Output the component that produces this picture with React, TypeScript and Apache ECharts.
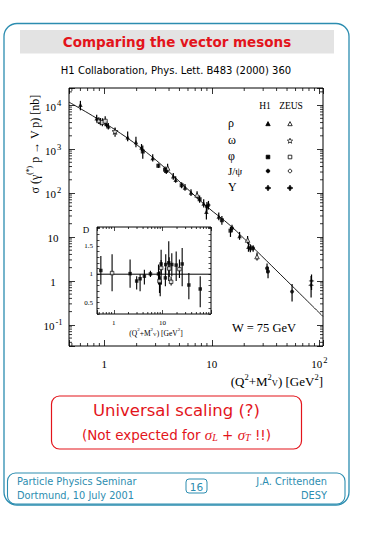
import React, { useEffect, useRef } from 'react';
import * as echarts from 'echarts';

// ---------- Main plot data: [Q2+MV2 (GeV^2), sigma (nb), error low, error high]
const rhoH1 = [
  [0.60, 10150, 7600, 12500],
  [0.85, 5050, 4200, 6000],
  [0.92, 4250, 3500, 5100],
  [1.05, 3700, 3100, 4400],
  [1.09, 3300, 2800, 3900],
  [1.65, 1845, 1500, 2500],
  [1.97, 1440, 1100, 1900],
  [2.22, 1080, 900, 1300],
  [2.82, 624, 520, 760],
  [3.77, 321, 270, 380],
  [4.38, 240, 200, 285],
  [4.61, 200, 170, 240],
  [5.63, 134, 112, 160],
  [6.4, 102, 85, 122],
  [8.4, 58, 47, 72],
  [8.9, 37.6, 25, 52],
  [11.6, 29, 24, 36],
  [18.1, 10.5, 8.6, 13],
  [21.9, 6.0, 4.6, 7.8],
];
const rhoZEUS = [
  [0.89, 4470, 3700, 5300],
  [3.88, 370, 300, 460],
  [7.29, 90, 75, 110],
  [21.5, 8.5, 7, 10.5],
  [26.3, 3.57, 2.9, 4.4],
];
const omegaZEUS = [[1.26, 2520, 1900, 3100]];
const phiH1 = [
  [2.28, 880, 600, 1200],
  [3.18, 417, 370, 470],
  [3.67, 339, 290, 400],
  [5.24, 150, 128, 176],
  [7.7, 72, 60, 88],
  [12.4, 24, 19, 30],
  [14.9, 13.9, 10, 17],
  [22.8, 5.5, 4.5, 6.7],
];
const phiZEUS = [
  [0.96, 4040, 3300, 5000],
  [1.02, 4300, 3400, 5600],
];
const jpsiH1 = [
  [9.0, 49, 38, 62],
  [9.3, 53, 42, 66],
  [15.4, 15.8, 13, 19],
  [24.2, 5.5, 4.6, 6.5],
  [32.6, 1.94, 1.5, 2.5],
  [33.3, 1.63, 1.15, 2.1],
  [55.7, 0.57, 0.34, 0.85],
];
const upsH1 = [[84.5, 1.0, 0.62, 1.4]];
const upsZEUS = [[83.7, 0.8, 0.42, 1.3]];

// Fit curve
const fitQ2 = [0.47, 1.26, 2.75, 5.6, 9.0, 15.0, 22.8, 55.7, 108];
const fitSigma = [11700, 2750, 680, 141, 49, 17.8, 6.6, 0.77, 0.155];

// ---------- Inset data: [Q2+MV2, D, error low, error high]
const insetFilled = [
  [0.54, 1.065, 0.82, 1.32],
  [2.16, 1.01, 0.76, 1.26],
  [2.95, 0.88, 0.73, 0.965],
  [3.47, 0.92, 0.70, 1.0],
  [4.25, 0.965, 0.82, 1.08],
  [5.66, 1.005, 0.95, 1.06],
  [8.3, 1.005, 0.82, 1.17],
  [9.0, 0.85, 0.61, 0.965],
  [9.4, 1.18, 0.82, 1.43],
  [11.5, 0.935, 0.79, 1.11],
  [11.7, 1.17, 1.0, 1.35],
  [13.5, 1.2, 0.88, 1.58],
  [15.6, 1.17, 0.965, 1.37],
  [19.2, 1.16, 0.88, 1.40],
  [25.5, 1.18, 0.79, 1.46],
  [35, 0.81, 0.56, 1.02],
  [60, 0.74, 0.42, 0.965],
];
const insetOpen = [
  [0.92, 1.02, 0.70, 1.35],
  [8.7, 0.88, 0.67, 1.05],
  [9.4, 1.11, 1.0, 1.25],
  [13.8, 1.1, 0.95, 1.3],
  [15.1, 0.865, 0.80, 0.96],
  [22.4, 1.09, 0.935, 1.26],
];
const insetRefX = [0.45, 100];
const insetRefD = [1, 1];

// Axis tick labels
const mainXLabels: Record<number, string> = { 0: '{b|1}', 1: '{b|10}', 2: '{b|10}{s|2}' };
const mainYLabels: Record<number, string> = {
  [-1]: '{b|10}{s|-1}', 0: '{b|1}', 1: '{b|10}', 2: '{b|10}{s|2}', 3: '{b|10}{s|3}', 4: '{b|10}{s|4}',
};
const insetXLabels: Record<number, string> = { 0: '1', 1: '10' };
const insetYLabels = [0.5, 1, 1.5];

const SERIF = '"Liberation Serif", "DejaVu Serif", serif';
const SANS = '"DejaVu Sans", Verdana, sans-serif';
const TEAL = '#2c8db0';
const RED = '#e3141b';

const X_RANGE = [0.47, 108];
const Y_RANGE = [0.033, 24500];
const IX_RANGE = [0.45, 100];
const IY_RANGE = [0.3, 1.83];

function logMinors(min: number, max: number) {
  const out: number[] = [];
  for (let e = -3; e <= 5; e++) {
    for (let k = 2; k <= 9; k++) {
      const v = k * Math.pow(10, e);
      if (v > min && v < max) out.push(v);
    }
  }
  return out;
}

const powLabel = (table: Record<number, string>) => (v: number) => {
  const l = Math.log10(v);
  const k = Math.round(l);
  if (Math.abs(l - k) > 1e-6) return '';
  return table[k] ?? '';
};

const STAR4 = 'path://M0,-10 L3,-3 L10,0 L3,3 L0,10 L-3,3 L-10,0 L-3,-3 Z';
const STAR5 = 'path://M0,-10 L2.4,-3.1 L9.5,-3.1 L3.8,1.2 L5.9,8.1 L0,4 L-5.9,8.1 L-3.8,1.2 L-9.5,-3.1 L-2.4,-3.1 Z';

function errSeries(data: number[][], xi: number, yi: number, w: number) {
  return {
    type: 'custom',
    xAxisIndex: xi,
    yAxisIndex: yi,
    data,
    silent: true,
    z: 3,
    encode: { x: 0, y: 1 },
    renderItem: (_p: any, api: any) => {
      const x = api.value(0);
      const a = api.coord([x, api.value(2)]);
      const b = api.coord([x, api.value(3)]);
      return {
        type: 'line',
        shape: { x1: a[0], y1: a[1], x2: b[0], y2: b[1] },
        style: { stroke: '#000', lineWidth: w },
      };
    },
  };
}

function minorSeries(vals: number[], dir: 'x' | 'y', xi: number, yi: number, len: number, other: number) {
  return {
    type: 'custom',
    xAxisIndex: xi,
    yAxisIndex: yi,
    silent: true,
    data: vals.map((v) => (dir === 'x' ? [v, other] : [other, v])),
    encode: { x: 0, y: 1 },
    renderItem: (params: any, api: any) => {
      const cs = params.coordSys;
      const p = api.coord([api.value(0), api.value(1)]);
      const st = { stroke: '#000', lineWidth: 0.8 };
      if (dir === 'x') {
        return {
          type: 'group',
          children: [
            { type: 'line', shape: { x1: p[0], y1: cs.y + cs.height, x2: p[0], y2: cs.y + cs.height - len }, style: st },
            { type: 'line', shape: { x1: p[0], y1: cs.y, x2: p[0], y2: cs.y + len }, style: st },
          ],
        };
      }
      return {
        type: 'group',
        children: [
          { type: 'line', shape: { x1: cs.x, y1: p[1], x2: cs.x + len, y2: p[1] }, style: st },
          { type: 'line', shape: { x1: cs.x + cs.width, y1: p[1], x2: cs.x + cs.width - len, y2: p[1] }, style: st },
        ],
      };
    },
  };
}

function scatter(data: number[][], symbol: string, filled: boolean, size: number, xi = 0, yi = 0) {
  return {
    type: 'scatter',
    xAxisIndex: xi,
    yAxisIndex: yi,
    data: data.map((d) => [d[0], d[1]]),
    symbol,
    symbolSize: size,
    z: 4,
    itemStyle: { color: filled ? '#000' : '#fff', borderColor: '#000', borderWidth: filled ? 0 : 0.9 },
  };
}

const richAxis = {
  b: { fontSize: 11, fontFamily: SERIF, color: '#000', padding: [3, 0, 0, 0] },
  s: { fontSize: 8.5, fontFamily: SERIF, color: '#000', verticalAlign: 'top', padding: [0, 0, 0, 1] },
};

function axisCommon(show: boolean) {
  return {
    axisLine: { show: false },
    splitLine: { show: false },
    axisTick: { show: true, inside: true, length: 6, lineStyle: { color: '#000', width: 0.8 } },
    axisLabel: { show },
  };
}

// legend symbol helpers (legend decoration only)
const lgTri = (cx: number, cy: number, f: boolean) => ({
  type: 'polygon', shape: { points: [[cx, cy - 2.4], [cx + 2.2, cy + 1.7], [cx - 2.2, cy + 1.7]] },
  style: { fill: f ? '#000' : '#fff', stroke: '#000', lineWidth: 0.8 },
});
const lgSq = (cx: number, cy: number, f: boolean) => ({
  type: 'rect', shape: { x: cx - 1.8, y: cy - 1.8, width: 3.6, height: 3.6 },
  style: { fill: f ? '#000' : '#fff', stroke: '#000', lineWidth: 0.8 },
});
const lgCirc = (cx: number, cy: number, f: boolean) => ({
  type: 'circle', shape: { cx, cy, r: 1.8 },
  style: { fill: f ? '#000' : '#fff', stroke: '#000', lineWidth: 0.8 },
});
const lgStar5 = (cx: number, cy: number) => {
  const pts: number[][] = [];
  for (let i = 0; i < 10; i++) {
    const r = i % 2 === 0 ? 2.8 : 1.2;
    const a = -Math.PI / 2 + (i * Math.PI) / 5;
    pts.push([cx + r * Math.cos(a), cy + r * Math.sin(a)]);
  }
  return { type: 'polygon', shape: { points: pts }, style: { fill: '#fff', stroke: '#000', lineWidth: 0.7 } };
};
const lgStar4 = (cx: number, cy: number) => ({
  type: 'polygon',
  shape: { points: [[cx, cy - 3], [cx + 1, cy - 1], [cx + 3, cy], [cx + 1, cy + 1], [cx, cy + 3], [cx - 1, cy + 1], [cx - 3, cy], [cx - 1, cy - 1]] },
  style: { fill: '#000', stroke: '#000', lineWidth: 0.6 },
});

export default function App() {
  const ref = useRef<HTMLDivElement>(null);

  useEffect(() => {
    if (!ref.current) return;
    const chart = echarts.init(ref.current, undefined, { renderer: 'svg', width: 365, height: 535 });

    const graphics: any[] = [
      // outer slide frame
      { type: 'rect', shape: { x: 4, y: 23.5, width: 345, height: 481.5, r: 13 }, style: { fill: 'none', stroke: TEAL, lineWidth: 1.3 }, z: -10 },
      // title bar
      { type: 'rect', shape: { x: 20, y: 30, width: 314, height: 23.5 }, style: { fill: '#e3e3e3' }, z: -9 },
      { type: 'text', x: 177, y: 42, style: { text: 'Comparing the vector mesons', font: `bold 13.5px ${SANS}`, fill: RED, align: 'center', verticalAlign: 'middle' } },
      { type: 'text', x: 176, y: 70.5, style: { text: 'H1 Collaboration, Phys. Lett. B483 (2000) 360', font: `10px ${SANS}`, fill: '#000', align: 'center', verticalAlign: 'middle' } },
      // y axis title
      {
        type: 'text', x: 33, y: 144, rotation: Math.PI / 2,
        style: {
          text: '{b|σ (γ}{s|(*)}{b| p → V p) [nb]}',
          align: 'center', verticalAlign: 'middle',
          rich: {
            b: { fontSize: 12, fontFamily: SERIF, fill: '#000', padding: [3, 0, 0, 0] },
            s: { fontSize: 7.5, fontFamily: SERIF, fill: '#000', verticalAlign: 'top' },
          },
        },
      },
      // x axis title
      {
        type: 'text', x: 323, y: 380,
        style: {
          text: '{b|(Q}{s|2}{b|+M}{s|2}{v|V}{b|) [GeV}{s|2}{b|]}',
          align: 'right', verticalAlign: 'middle',
          rich: {
            b: { fontSize: 13, fontFamily: SERIF, fill: '#000', padding: [2, 0, 0, 0] },
            s: { fontSize: 8.5, fontFamily: SERIF, fill: '#000', verticalAlign: 'top' },
            v: { fontSize: 8.5, fontFamily: SERIF, fill: '#000', verticalAlign: 'bottom' },
          },
        },
      },
      // W label
      { type: 'text', x: 232, y: 328, style: { text: 'W = 75 GeV', font: `12.5px ${SERIF}`, fill: '#000', align: 'left', verticalAlign: 'middle' } },
      // legend
      { type: 'text', x: 265, y: 106, style: { text: 'H1', font: `9.5px ${SERIF}`, fill: '#000', align: 'center', verticalAlign: 'middle' } },
      { type: 'text', x: 291, y: 106, style: { text: 'ZEUS', font: `9.5px ${SERIF}`, fill: '#000', align: 'center', verticalAlign: 'middle' } },
      { type: 'text', x: 228, y: 123, style: { text: 'ρ', font: `12px ${SERIF}`, fill: '#000', align: 'left', verticalAlign: 'middle' } },
      { type: 'text', x: 228, y: 140, style: { text: 'ω', font: `12px ${SERIF}`, fill: '#000', align: 'left', verticalAlign: 'middle' } },
      { type: 'text', x: 228, y: 156, style: { text: 'φ', font: `12px ${SERIF}`, fill: '#000', align: 'left', verticalAlign: 'middle' } },
      { type: 'text', x: 228, y: 171, style: { text: 'J/ψ', font: `11px ${SERIF}`, fill: '#000', align: 'left', verticalAlign: 'middle' } },
      { type: 'text', x: 228, y: 187, style: { text: 'Υ', font: `12px ${SERIF}`, fill: '#000', align: 'left', verticalAlign: 'middle' } },
      lgTri(268, 124, true), lgTri(290, 124, false),
      lgStar5(290, 141),
      lgSq(268, 157, true), lgSq(290, 157, false),
      lgCirc(268, 171, true), lgCirc(290, 171, false),
      lgStar4(268, 188), lgStar4(290, 188),
      // inset labels
      { type: 'text', x: 86, y: 230, style: { text: 'D', font: `9px ${SERIF}`, fill: '#000', align: 'center', verticalAlign: 'middle' } },
      {
        type: 'text', x: 156, y: 332,
        style: {
          text: '{b|(Q}{s|2}{b|+M}{s|2}{v|V}{b|) [GeV}{s|2}{b|]}',
          align: 'center', verticalAlign: 'middle',
          rich: {
            b: { fontSize: 7.5, fontFamily: SERIF, fill: '#000', padding: [2, 0, 0, 0] },
            s: { fontSize: 5, fontFamily: SERIF, fill: '#000', verticalAlign: 'top' },
            v: { fontSize: 5, fontFamily: SERIF, fill: '#000', verticalAlign: 'bottom' },
          },
        },
      },
      // red box
      { type: 'rect', shape: { x: 51.5, y: 396, width: 250, height: 53, r: 8 }, style: { fill: 'none', stroke: RED, lineWidth: 1.2 } },
      { type: 'text', x: 176.5, y: 410, style: { text: 'Universal scaling (?)', font: `16.5px ${SANS}`, fill: RED, align: 'center', verticalAlign: 'middle' } },
      {
        type: 'text', x: 176.5, y: 435,
        style: {
          text: '{t|(Not expected for }{m|σ}{u|L}{t| + }{m|σ}{u|T}{t| !!)}',
          align: 'center', verticalAlign: 'middle',
          rich: {
            t: { fontSize: 13.5, fontFamily: SANS, fill: RED },
            m: { fontSize: 15, fontFamily: SERIF, fontStyle: 'italic', fill: RED },
            u: { fontSize: 10, fontFamily: SERIF, fontStyle: 'italic', fill: RED, verticalAlign: 'bottom' },
          },
        },
      },
      // footer
      { type: 'rect', shape: { x: 7.5, y: 473, width: 337.5, height: 31, r: 8 }, style: { fill: 'none', stroke: TEAL, lineWidth: 1.1 } },
      { type: 'text', x: 17, y: 481.5, style: { text: 'Particle Physics Seminar', font: `9.8px ${SANS}`, fill: TEAL, align: 'left', verticalAlign: 'middle' } },
      { type: 'text', x: 17, y: 495.5, style: { text: 'Dortmund, 10 July 2001', font: `9.8px ${SANS}`, fill: TEAL, align: 'left', verticalAlign: 'middle' } },
      { type: 'text', x: 327, y: 481.5, style: { text: 'J.A. Crittenden', font: `9.8px ${SANS}`, fill: TEAL, align: 'right', verticalAlign: 'middle' } },
      { type: 'text', x: 327, y: 495.5, style: { text: 'DESY', font: `9.8px ${SANS}`, fill: TEAL, align: 'right', verticalAlign: 'middle' } },
      { type: 'rect', shape: { x: 186, y: 479, width: 21, height: 14, r: 3 }, style: { fill: 'none', stroke: TEAL, lineWidth: 1 } },
      { type: 'text', x: 196.5, y: 486.5, style: { text: '16', font: `10.5px ${SANS}`, fill: TEAL, align: 'center', verticalAlign: 'middle' } },
    ];

    const xMinMain = logMinors(X_RANGE[0], X_RANGE[1]);
    const yMinMain = logMinors(Y_RANGE[0], Y_RANGE[1]);
    const xMinInset = logMinors(IX_RANGE[0], IX_RANGE[1]);

    const option: any = {
      animation: false,
      backgroundColor: '#fff',
      grid: [
        { left: 69, top: 88, width: 254, height: 258, show: true, borderColor: '#000', borderWidth: 1, backgroundColor: 'transparent' },
        { left: 97, top: 227, width: 114, height: 87, show: true, borderColor: '#000', borderWidth: 1, backgroundColor: '#fff' },
      ],
      xAxis: [
        {
          type: 'log', gridIndex: 0, min: X_RANGE[0], max: X_RANGE[1], position: 'bottom', ...axisCommon(true),
          axisLabel: { show: true, interval: 0, margin: 9, formatter: powLabel(mainXLabels), rich: richAxis },
        },
        { type: 'log', gridIndex: 0, min: X_RANGE[0], max: X_RANGE[1], position: 'top', ...axisCommon(false) },
        {
          type: 'log', gridIndex: 1, min: IX_RANGE[0], max: IX_RANGE[1], position: 'bottom', ...axisCommon(true),
          axisTick: { show: true, inside: true, length: 4, lineStyle: { color: '#000', width: 0.7 } },
          axisLabel: { show: true, interval: 0, margin: 5, fontSize: 7, fontFamily: SERIF, color: '#000', formatter: powLabel(insetXLabels) },
        },
        {
          type: 'log', gridIndex: 1, min: IX_RANGE[0], max: IX_RANGE[1], position: 'top', ...axisCommon(false),
          axisTick: { show: true, inside: true, length: 4, lineStyle: { color: '#000', width: 0.7 } },
        },
      ],
      yAxis: [
        {
          type: 'log', gridIndex: 0, min: Y_RANGE[0], max: Y_RANGE[1], position: 'left', ...axisCommon(true),
          axisLabel: { show: true, interval: 0, margin: 16, align: 'center', formatter: powLabel(mainYLabels), rich: richAxis },
        },
        { type: 'log', gridIndex: 0, min: Y_RANGE[0], max: Y_RANGE[1], position: 'right', ...axisCommon(false) },
        {
          type: 'value', gridIndex: 1, min: IY_RANGE[0], max: IY_RANGE[1], interval: 0.1, position: 'left', ...axisCommon(true),
          axisTick: { show: true, inside: true, length: 2.5, lineStyle: { color: '#000', width: 0.7 } },
          axisLabel: {
            show: true, interval: 0, margin: 4, fontSize: 7, fontFamily: SERIF, color: '#000',
            formatter: (v: number) => {
              const hit = insetYLabels.find((t) => Math.abs(t - v) < 1e-6);
              return hit === undefined ? '' : String(hit);
            },
          },
        },
        {
          type: 'value', gridIndex: 1, min: IY_RANGE[0], max: IY_RANGE[1], interval: 0.1, position: 'right', ...axisCommon(false),
          axisTick: { show: true, inside: true, length: 2.5, lineStyle: { color: '#000', width: 0.7 } },
        },
      ],
      graphic: graphics,
      series: [
        minorSeries(xMinMain, 'x', 0, 0, 3, 1),
        minorSeries(yMinMain, 'y', 0, 0, 3, 1),
        minorSeries(xMinInset, 'x', 2, 2, 2, 1),
        {
          type: 'line', xAxisIndex: 0, yAxisIndex: 0, data: fitQ2.map((q, i) => [q, fitSigma[i]]),
          symbol: 'none', smooth: 0.4, lineStyle: { color: '#000', width: 0.9 }, z: 2, silent: true,
        },
        errSeries([...rhoH1, ...rhoZEUS, ...omegaZEUS, ...phiH1, ...phiZEUS, ...jpsiH1, ...upsH1, ...upsZEUS], 0, 0, 1.2),
        scatter(rhoH1, 'triangle', true, 4.5),
        scatter(rhoZEUS, 'triangle', false, 4.5),
        scatter(omegaZEUS, STAR5, false, 6),
        scatter(phiH1, 'rect', true, 4),
        scatter(phiZEUS, 'rect', false, 4),
        scatter(jpsiH1, 'circle', true, 4),
        scatter(upsH1, STAR4, true, 6),
        scatter(upsZEUS, STAR4, true, 6),
        // inset
        {
          type: 'line', xAxisIndex: 2, yAxisIndex: 2, data: insetRefX.map((x, i) => [x, insetRefD[i]]),
          symbol: 'none', lineStyle: { color: '#000', width: 1 }, z: 2, silent: true,
        },
        errSeries([...insetFilled, ...insetOpen], 2, 2, 1.1),
        scatter(insetFilled, 'rect', true, 3.5, 2, 2),
        scatter(insetOpen, 'rect', false, 3.5, 2, 2),
      ],
    };

    chart.setOption(option);
    return () => chart.dispose();
  }, []);

  return (
    <div style={{ position: 'fixed', left: 0, top: 0, width: 365, height: 535, background: '#fff' }}>
      <div ref={ref} style={{ width: 365, height: 535 }} />
    </div>
  );
}
